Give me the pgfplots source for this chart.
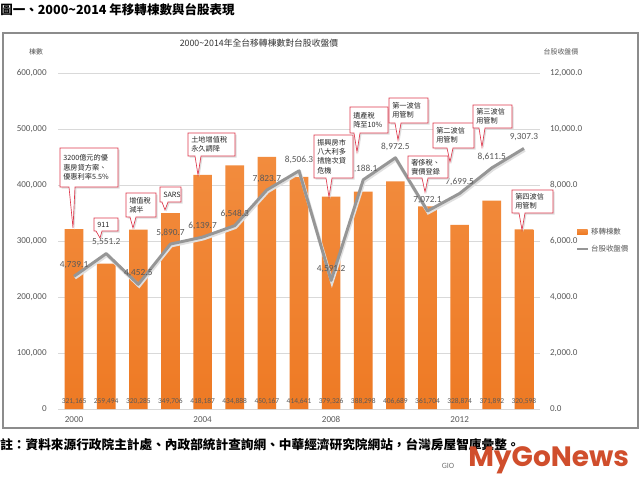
\documentclass[border=0pt]{standalone}
\usepackage{pgfplots}
\pgfplotsset{compat=1.18}
\usepackage{fontspec}
\setmainfont{Carlito}
\newfontfamily\cjk{Noto Sans CJK TC}
\newfontfamily\logofont{Poppins}
\definecolor{barO}{RGB}{238,122,36}
\definecolor{barOt}{RGB}{242,140,62}
\definecolor{lineG}{RGB}{150,150,150}
\definecolor{txtG}{RGB}{89,89,89}
\definecolor{cRed}{RGB}{222,58,78}
\definecolor{frameG}{RGB}{140,140,140}
\definecolor{logoR}{RGB}{208,78,44}

\newcommand{\callout}[8]{%
  \fill[black!13] ({#1+1.5},{#2+1.5}) -- ({#3+1.5},{#2+1.5}) -- ({#3+1.5},{#4+1.5}) -- ({#5+4.5},{#4+1.5}) -- ({#6+1.5},{#7+1.5}) -- ({#5-1.5},{#4+1.5}) -- ({#1+1.5},{#4+1.5}) -- cycle;
  \filldraw[fill=white, draw=cRed, line width=0.5pt] (#1,#2) -- (#3,#2) -- (#3,#4) -- ({#5+3},#4) -- (#6,#7) -- ({#5-3},#4) -- (#1,#4) -- cycle;
  \node[anchor=west, align=left, inner sep=0pt, font=\cjk\fontsize{5.4}{7}\selectfont, text=black!85] at ({#1+3},{(#2+#4)/2}) {#8};
}

\begin{document}
\begin{tikzpicture}
\useasboundingbox (0,0) rectangle (480pt,360pt);
\fill[white] (0,0) rectangle (480pt,360pt);

% outer chart frame
\begin{scope}[shift={(0pt,360pt)}, x=0.75pt, y=-0.75pt]
  \draw[frameG, line width=0.9pt] (3,33) rectangle (638,428);
\end{scope}

% ---------- bars (left axis)
\begin{axis}[
  at={(43.5pt,53.25pt)}, anchor=south west, scale only axis,
  width=361.5pt, height=252pt,
  xmin=1999.5, xmax=2014.5, ymin=0, ymax=600000,
  axis y line*=left, axis x line*=bottom,
  axis line style={draw=none},
  major tick length=0pt,
  ytick={0,100000,...,600000},
  scaled y ticks=false,
  xtick={2000,2004,2008,2012},
  xticklabels={2000,2004,2008,2012},
  ymajorgrids, grid style={black!15, line width=0.6pt},
  /pgf/number format/fixed, /pgf/number format/precision=0,
  /pgf/number format/1000 sep={,},
  /pgf/number format/assume math mode=true,
  yticklabel style={font=\fontsize{6.8}{8}\selectfont, text=txtG, xshift=-5pt},
  xticklabel style={font=\fontsize{6.8}{8}\selectfont, text=txtG, yshift=-2pt},
  legend style={at={(1.075,0.548)}, anchor=north west, draw=none, fill=none,
    font=\cjk\fontsize{5.6}{7}\selectfont, text=txtG, row sep=2.5pt, inner sep=0pt},
  legend cell align=left,
]
\addplot[ybar, bar width=0.58, draw=none, top color=barOt, bottom color=barO,
  legend image code/.code={\fill[barO] (0pt,-1.6pt) rectangle (8pt,1.6pt);}]
  coordinates {(2000,321165) (2001,259494) (2002,320285) (2003,349706) (2004,418187)
    (2005,434888) (2006,450167) (2007,414641) (2008,379326) (2009,388298)
    (2010,406689) (2011,361704) (2012,328874) (2013,371892) (2014,320598)};
\addlegendentry{移轉棟數}
\addlegendimage{legend image code/.code={\draw[lineG, line width=1pt] (0pt,0pt) -- (8pt,0pt);}}
\addlegendentry{台股收盤價}
\addplot[draw=none, mark=none, forget plot, point meta=explicit,
  nodes near coords,
  every node near coord/.style={anchor=center, font=\fontsize{5.6}{7}\selectfont, text=txtG, inner sep=0pt}]
  coordinates {(2000,14000)[321165] (2001,14000)[259494] (2002,14000)[320285] (2003,14000)[349706]
    (2004,14000)[418187] (2005,14000)[434888] (2006,14000)[450167] (2007,14000)[414641]
    (2008,14000)[379326] (2009,14000)[388298] (2010,14000)[406689] (2011,14000)[361704]
    (2012,14000)[328874] (2013,14000)[371892] (2014,14000)[320598]};
\end{axis}

% ---------- line (right axis)
\begin{axis}[
  at={(43.5pt,53.25pt)}, anchor=south west, scale only axis,
  width=361.5pt, height=252pt,
  xmin=1999.5, xmax=2014.5, ymin=0, ymax=12000,
  axis x line=none, axis y line*=right,
  axis line style={draw=none},
  major tick length=0pt,
  ytick={0,2000,...,12000},
  scaled y ticks=false,
  /pgf/number format/fixed, /pgf/number format/fixed zerofill,
  /pgf/number format/precision=1, /pgf/number format/1000 sep={,},
  /pgf/number format/assume math mode=true,
  yticklabel style={font=\fontsize{6.8}{8}\selectfont, text=txtG, xshift=4pt},
]
\addplot[black!12, line width=2.6pt, mark=none, yshift=-1.2pt, xshift=0.6pt]
  coordinates {(2000,4739.1) (2001,5551.2) (2002,4452.5) (2003,5890.7) (2004,6139.7)
    (2005,6548.3) (2006,7823.7) (2007,8506.3) (2008,4591.2) (2009,8188.1)
    (2010,8972.5) (2011,7072.1) (2012,7699.5) (2013,8611.5) (2014,9307.3)};
\addplot[lineG, line width=2.2pt, mark=none, line join=round,
  nodes near coords,
  every node near coord/.style={anchor=south, yshift=4.5pt, inner sep=0pt,
    font=\fontsize{7}{8}\selectfont, text=txtG}]
  coordinates {(2000,4739.1) (2001,5551.2) (2002,4452.5) (2003,5890.7) (2004,6139.7)
    (2005,6548.3) (2006,7823.7) (2007,8506.3) (2008,4591.2) (2009,8188.1)
    (2010,8972.5) (2011,7072.1) (2012,7699.5) (2013,8611.5) (2014,9307.3)};
\end{axis}

% ---------- texts and callouts in pixel coordinates
\begin{scope}[shift={(0pt,360pt)}, x=0.75pt, y=-0.75pt]
  \node[anchor=west, inner sep=0pt, font=\cjk\bfseries\fontsize{9.4}{11}\selectfont]
    at (0,10) {圖一、2000\textasciitilde2014 年移轉棟數與台股表現};
  \node[inner sep=0pt, font=\cjk\fontsize{6.6}{8}\selectfont, text=black!80]
    at (259,43) {2000\textasciitilde2014年全台移轉棟數對台股收盤價};
  \node[inner sep=0pt, font=\cjk\fontsize{5.2}{6}\selectfont, text=txtG] at (36,52) {棟數};
  \node[inner sep=0pt, font=\cjk\fontsize{5.2}{6}\selectfont, text=txtG] at (561,52) {台股收盤價};

  \callout{60}{148}{118}{187}{72}{73}{228}{3200億元的優\\惠房貸方案、\\優惠利率5.5\%}
  \callout{94}{218}{118}{231}{99}{100}{238}{911}
  \callout{126}{193}{156}{217}{133}{133}{228}{增值稅\\減半}
  \callout{160}{187}{181}{202}{165}{165}{210}{SARS}
  \callout{188}{133}{235}{156}{198}{198}{175}{土地增值稅\\永久調降}
  \callout{314}{135}{353}{178}{329}{329}{197}{振興房市\\八大利多\\措施次貸\\危機}
  \callout{350}{107}{388}{133}{357}{357}{152}{遺產稅\\降至10\%}
  \callout{389}{98}{428}{123}{398}{398}{140}{第一波信\\用管制}
  \callout{408}{156}{448}{178}{425}{425}{192}{奢侈稅、\\實價登錄}
  \callout{433}{123}{474}{148}{450}{450}{162}{第二波信\\用管制}
  \callout{473}{105}{512}{128}{482}{482}{147}{第三波信\\用管制}
  \callout{512}{190}{553}{213}{522}{522}{230}{第四波信\\用管制}

  \node[anchor=west, inner sep=0pt, font=\cjk\bfseries\fontsize{9.5}{11}\selectfont]
    at (0,445) {註：資料來源行政院主計處、內政部統計查詢網、中華經濟研究院網站，台灣房屋智庫彙整。};
  \node[inner sep=0pt, font=\fontsize{6}{7}\selectfont, text=black!55] at (448,466) {GIO};
  \node[anchor=west, inner sep=0pt, font=\logofont\bfseries\fontsize{21}{24}\selectfont, text=logoR]
    at (468,460) {MyGoNews};
\end{scope}
\end{tikzpicture}
\end{document}
